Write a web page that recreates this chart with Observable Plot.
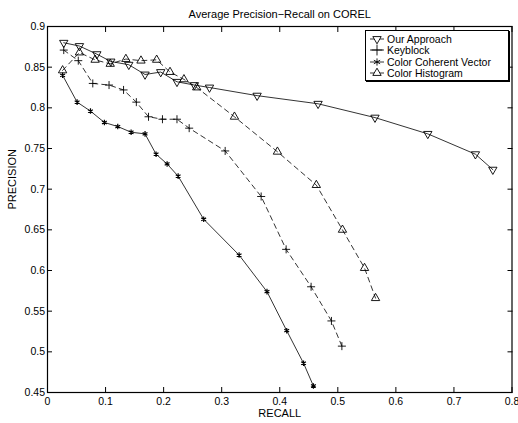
<!DOCTYPE html>
<html><head><meta charset="utf-8">
<script src="https://cdn.jsdelivr.net/npm/d3@7"></script>
<script src="https://cdn.jsdelivr.net/npm/@observablehq/plot@0.6"></script>
<style>
body{margin:0;background:#fff}
#wrap{position:relative;width:518px;height:423px;font-family:"Liberation Sans",Arial,sans-serif}
#legend{position:absolute;left:365px;top:30px;width:142px;height:49px;border:1px solid #000;box-shadow:1px 1px 0 #000;background:#fff;font-size:10.5px}
#legend .row{position:absolute;left:0;height:12px;line-height:12px;white-space:nowrap}
#legend svg{position:absolute;left:2px;top:0}
#legend span{position:absolute;left:21px;top:0}
</style>
</head><body><div id="wrap"></div>
<script>
const title = "Average Precision\u2212Recall on COREL";
const xLabel = "RECALL";
const yLabel = "PRECISION";
const xTicks = [0, 0.1, 0.2, 0.3, 0.4, 0.5, 0.6, 0.7, 0.8];
const xTickLabels = ["0", "0.1", "0.2", "0.3", "0.4", "0.5", "0.6", "0.7", "0.8"];
const yTicks = [0.45, 0.5, 0.55, 0.6, 0.65, 0.7, 0.75, 0.8, 0.85, 0.9];
const yTickLabels = ["0.45", "0.5", "0.55", "0.6", "0.65", "0.7", "0.75", "0.8", "0.85", "0.9"];

const seriesNames = ["Our Approach", "Keyblock", "Color Coherent Vector", "Color Histogram"];

const ourRecall    = [0.028, 0.055, 0.085, 0.109, 0.140, 0.168, 0.195, 0.223, 0.253, 0.279, 0.361, 0.466, 0.564, 0.655, 0.737, 0.767];
const ourPrecision = [0.880, 0.876, 0.866, 0.857, 0.853, 0.841, 0.844, 0.832, 0.828, 0.825, 0.815, 0.805, 0.788, 0.768, 0.743, 0.724];

const keyRecall    = [0.028, 0.053, 0.078, 0.106, 0.131, 0.153, 0.174, 0.198, 0.223, 0.244, 0.306, 0.368, 0.411, 0.454, 0.489, 0.507];
const keyPrecision = [0.871, 0.858, 0.830, 0.828, 0.822, 0.807, 0.789, 0.786, 0.786, 0.775, 0.747, 0.691, 0.626, 0.580, 0.538, 0.507];

const ccvRecall    = [0.026, 0.051, 0.074, 0.098, 0.121, 0.144, 0.168, 0.187, 0.206, 0.225, 0.269, 0.330, 0.378, 0.412, 0.441, 0.458];
const ccvPrecision = [0.840, 0.807, 0.796, 0.782, 0.777, 0.770, 0.768, 0.743, 0.731, 0.716, 0.663, 0.619, 0.574, 0.526, 0.486, 0.458];

const histRecall    = [0.026, 0.055, 0.082, 0.108, 0.135, 0.161, 0.188, 0.211, 0.235, 0.257, 0.322, 0.396, 0.463, 0.508, 0.546, 0.565];
const histPrecision = [0.846, 0.868, 0.859, 0.854, 0.860, 0.858, 0.859, 0.844, 0.835, 0.825, 0.789, 0.746, 0.705, 0.650, 0.603, 0.566];

const toRows = (name, xs, ys) => xs.map((x, i) => ({series: name, recall: x, precision: ys[i]}));
const ourRows  = toRows(seriesNames[0], ourRecall, ourPrecision);
const keyRows  = toRows(seriesNames[1], keyRecall, keyPrecision);
const ccvRows  = toRows(seriesNames[2], ccvRecall, ccvPrecision);
const histRows = toRows(seriesNames[3], histRecall, histPrecision);

const styles = [
  {rows: ourRows,  dash: null,  symbol: "triangle", rotate: 180, r: 3.1, lr: 3.1},
  {rows: keyRows,  dash: "5,4", symbol: "plus",     rotate: 0,   r: 2.7, lr: 3.6},
  {rows: ccvRows,  dash: null,  symbol: "asterisk", rotate: 0,   r: 2.6, lr: 3.4},
  {rows: histRows, dash: "5,4", symbol: "triangle", rotate: 0,   r: 3.1, lr: 3.1}
];

const marks = [];
for (const s of styles) {
  marks.push(Plot.line(s.rows, {x: "recall", y: "precision", stroke: "black", strokeWidth: 0.8, strokeDasharray: s.dash}));
  marks.push(Plot.dot(s.rows, {x: "recall", y: "precision", symbol: s.symbol, r: s.r, rotate: s.rotate, stroke: "black", fill: "none", strokeWidth: s.symbol === "asterisk" ? 1.2 : 0.9}));
}

const chart = Plot.plot({
  width: 518, height: 423,
  marginLeft: 47, marginRight: 6.5, marginTop: 26, marginBottom: 31,
  style: {fontFamily: "'Liberation Sans', Arial, sans-serif", fontSize: "10.5px", background: "#fff", color: "#000"},
  x: {domain: [0, 0.8]},
  y: {domain: [0.45, 0.9]},
  marks: [
    Plot.axisX(xTicks, {anchor: "bottom", tickSize: -5, tickPadding: 10.5, tickFormat: d => xTickLabels[xTicks.indexOf(d)], label: null}),
    Plot.axisX(xTicks, {anchor: "top", tickSize: -5, tickFormat: () => "", label: null}),
    Plot.axisY(yTicks, {anchor: "left", tickSize: -5, tickPadding: 7.5, tickFormat: d => yTickLabels[yTicks.indexOf(d)], label: null}),
    Plot.axisY(yTicks, {anchor: "right", tickSize: -5, tickFormat: () => "", label: null}),
    ...marks,
    Plot.frame({stroke: "black", strokeWidth: 1.2}),
    Plot.text([title], {frameAnchor: "top", dy: -16, fontSize: 11}),
    Plot.text([xLabel], {frameAnchor: "bottom", dy: 24.5, fontSize: 11}),
    Plot.text([yLabel], {frameAnchor: "left", dx: -35, rotate: -90, fontSize: 11})
  ]
});
const wrap = document.getElementById("wrap");
wrap.appendChild(chart);

// Legend
const legend = document.createElement("div");
legend.id = "legend";
styles.forEach((s, i) => {
  const row = document.createElement("div");
  row.className = "row";
  row.style.top = (2 + i * 11.4) + "px";
  row.style.width = "140px";
  const svg = d3.create("svg").attr("width", 18).attr("height", 12);
  svg.append("line").attr("x1", 2).attr("x2", 16).attr("y1", 6).attr("y2", 6)
    .attr("stroke", "black").attr("stroke-width", 0.8);
  const sym = {triangle: d3.symbolTriangle, plus: d3.symbolPlus, asterisk: d3.symbolAsterisk}[s.symbol];
  svg.append("path").attr("d", d3.symbol(sym, Math.PI * s.lr * s.lr)())
    .attr("transform", `translate(9,6) rotate(${s.rotate})`)
    .attr("fill", s.symbol === "triangle" ? "white" : "none").attr("stroke", "black").attr("stroke-width", 0.9);
  row.appendChild(svg.node());
  const label = document.createElement("span");
  label.textContent = seriesNames[i];
  row.appendChild(label);
  legend.appendChild(row);
});
wrap.appendChild(legend);
</script>
</body></html>
